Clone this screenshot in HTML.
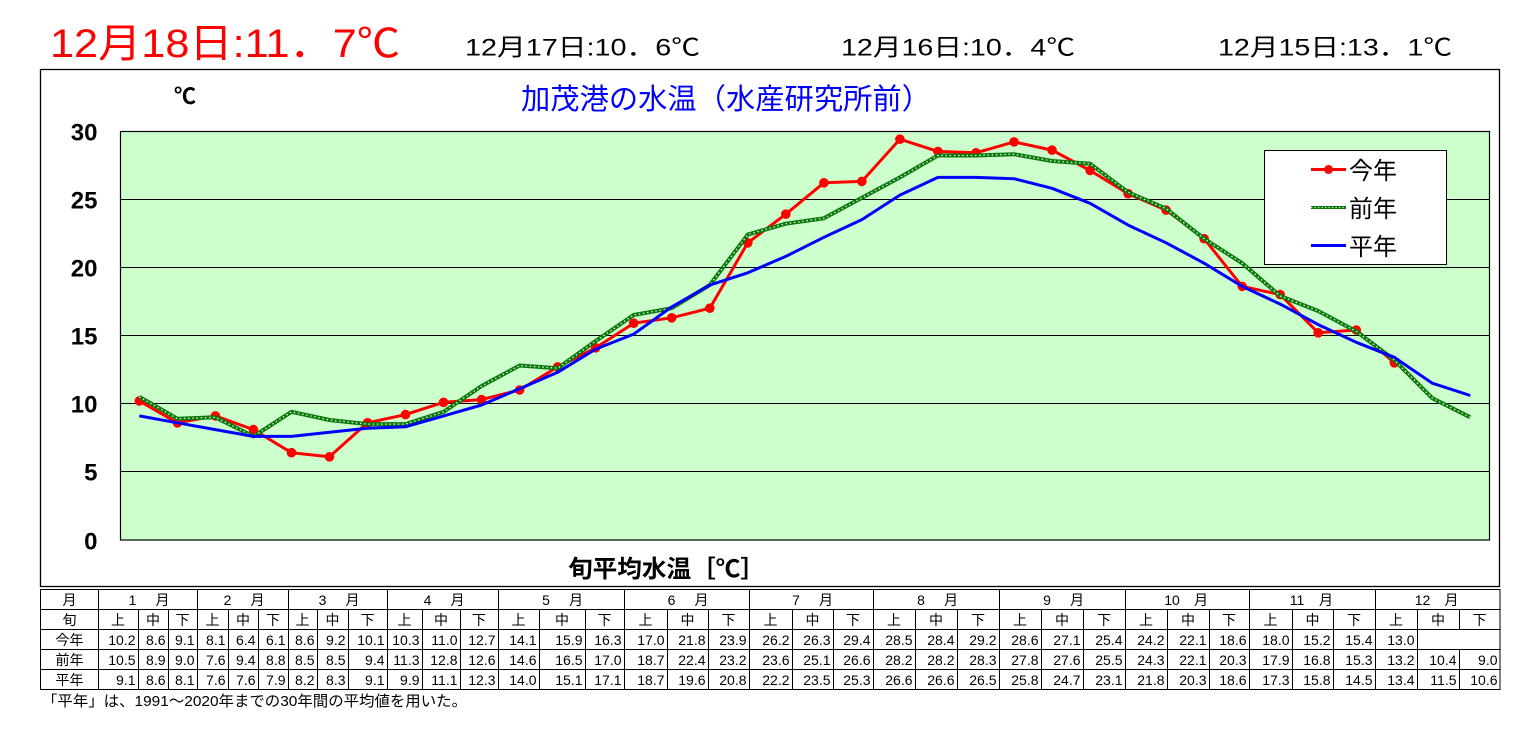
<!DOCTYPE html>
<html><head><meta charset="utf-8">
<style>
html,body{margin:0;padding:0;background:#fff;}
svg{display:block;}
text{font-family:"Liberation Sans","Noto Sans CJK JP",sans-serif;}
</style></head>
<body>
<svg width="1531" height="734" viewBox="0 0 1531 734" xmlns="http://www.w3.org/2000/svg">
<rect width="1531" height="734" fill="#fff"/>
<!-- header -->
<text x="50" y="57" font-size="40" fill="#ff0000" textLength="350" lengthAdjust="spacingAndGlyphs">12月18日:11．7℃</text>
<text x="465" y="55.5" font-size="24" fill="#000" textLength="235" lengthAdjust="spacingAndGlyphs">12月17日:10．6℃</text>
<text x="841" y="55.5" font-size="24" fill="#000" textLength="234" lengthAdjust="spacingAndGlyphs">12月16日:10．4℃</text>
<text x="1218" y="55.5" font-size="24" fill="#000" textLength="234" lengthAdjust="spacingAndGlyphs">12月15日:13．1℃</text>

<!-- chart box -->
<rect x="40.5" y="69.5" width="1459" height="517" fill="#fff" stroke="#000" stroke-width="1.3"/>
<text x="521" y="109" font-size="29" fill="#0000ff" textLength="410" lengthAdjust="spacingAndGlyphs">加茂港の水温（水産研究所前）</text>
<text x="174" y="104" font-size="22" font-weight="bold" fill="#000">℃</text>

<!-- plot area -->
<rect x="120.5" y="131.5" width="1369" height="408.5" fill="#ccffcc" stroke="#000" stroke-width="1.2"/>
<g stroke="#000" stroke-width="1">
<line x1="120.5" y1="199.5" x2="1489.5" y2="199.5"/>
<line x1="120.5" y1="267.5" x2="1489.5" y2="267.5"/>
<line x1="120.5" y1="335.5" x2="1489.5" y2="335.5"/>
<line x1="120.5" y1="403.5" x2="1489.5" y2="403.5"/>
<line x1="120.5" y1="471.5" x2="1489.5" y2="471.5"/>
</g>
<g font-size="24" font-weight="bold" text-anchor="end" fill="#000">
<text x="97.5" y="140.5">30</text>
<text x="97.5" y="208.5">25</text>
<text x="97.5" y="276.5">20</text>
<text x="97.5" y="344.5">15</text>
<text x="97.5" y="412.5">10</text>
<text x="97.5" y="480.5">5</text>
<text x="97.5" y="549.5">0</text>
</g>
<text x="568" y="577" font-size="24" font-weight="bold" fill="#000" textLength="197" lengthAdjust="spacingAndGlyphs">旬平均水温［℃］</text>

<!-- series -->
<polyline fill="none" stroke="#ff0000" stroke-width="3" stroke-linejoin="round" points="139.3,400.9 177.4,422.8 215.4,415.9 253.4,429.6 291.5,452.7 329.5,456.8 367.5,422.8 405.5,414.6 443.6,402.3 481.6,399.6 519.6,390.0 557.7,366.9 595.7,347.8 633.7,323.2 671.7,317.8 709.8,308.2 747.8,242.8 785.8,214.2 823.9,182.8 861.9,181.4 899.9,139.2 937.9,151.4 976.0,152.8 1014.0,141.9 1052.0,150.1 1090.1,170.5 1128.1,193.7 1166.1,210.1 1204.1,238.7 1242.2,286.4 1280.2,294.6 1318.2,332.8 1356.3,330.0 1394.3,362.8"/>
<g fill="#ff0000">
<circle cx="139.3" cy="400.9" r="4.8"/><circle cx="177.4" cy="422.8" r="4.8"/><circle cx="215.4" cy="415.9" r="4.8"/><circle cx="253.4" cy="429.6" r="4.8"/><circle cx="291.5" cy="452.7" r="4.8"/><circle cx="329.5" cy="456.8" r="4.8"/><circle cx="367.5" cy="422.8" r="4.8"/><circle cx="405.5" cy="414.6" r="4.8"/><circle cx="443.6" cy="402.3" r="4.8"/><circle cx="481.6" cy="399.6" r="4.8"/><circle cx="519.6" cy="390.0" r="4.8"/><circle cx="557.7" cy="366.9" r="4.8"/><circle cx="595.7" cy="347.8" r="4.8"/><circle cx="633.7" cy="323.2" r="4.8"/><circle cx="671.7" cy="317.8" r="4.8"/><circle cx="709.8" cy="308.2" r="4.8"/><circle cx="747.8" cy="242.8" r="4.8"/><circle cx="785.8" cy="214.2" r="4.8"/><circle cx="823.9" cy="182.8" r="4.8"/><circle cx="861.9" cy="181.4" r="4.8"/><circle cx="899.9" cy="139.2" r="4.8"/><circle cx="937.9" cy="151.4" r="4.8"/><circle cx="976.0" cy="152.8" r="4.8"/><circle cx="1014.0" cy="141.9" r="4.8"/><circle cx="1052.0" cy="150.1" r="4.8"/><circle cx="1090.1" cy="170.5" r="4.8"/><circle cx="1128.1" cy="193.7" r="4.8"/><circle cx="1166.1" cy="210.1" r="4.8"/><circle cx="1204.1" cy="238.7" r="4.8"/><circle cx="1242.2" cy="286.4" r="4.8"/><circle cx="1280.2" cy="294.6" r="4.8"/><circle cx="1318.2" cy="332.8" r="4.8"/><circle cx="1356.3" cy="330.0" r="4.8"/><circle cx="1394.3" cy="362.8" r="4.8"/>
</g>
<polyline id="g" fill="none" stroke="#0a780a" stroke-width="4" stroke-linejoin="round" points="139.3,396.9 177.4,418.7 215.4,417.3 253.4,436.4 291.5,411.8 329.5,420.0 367.5,424.1 405.5,424.1 443.6,411.8 481.6,386.0 519.6,365.5 557.7,368.2 595.7,341.0 633.7,315.0 671.7,308.2 709.8,285.1 747.8,234.6 785.8,223.7 823.9,218.3 861.9,197.8 899.9,177.4 937.9,155.5 976.0,155.5 1014.0,154.2 1052.0,161.0 1090.1,163.7 1128.1,192.3 1166.1,208.7 1204.1,238.7 1242.2,263.2 1280.2,296.0 1318.2,311.0 1356.3,331.4 1394.3,360.0 1432.3,398.2 1470.3,417.3"/>
<polyline fill="none" stroke="#e8ffe8" stroke-width="1.3" stroke-dasharray="1.4,2.8" points="139.3,396.9 177.4,418.7 215.4,417.3 253.4,436.4 291.5,411.8 329.5,420.0 367.5,424.1 405.5,424.1 443.6,411.8 481.6,386.0 519.6,365.5 557.7,368.2 595.7,341.0 633.7,315.0 671.7,308.2 709.8,285.1 747.8,234.6 785.8,223.7 823.9,218.3 861.9,197.8 899.9,177.4 937.9,155.5 976.0,155.5 1014.0,154.2 1052.0,161.0 1090.1,163.7 1128.1,192.3 1166.1,208.7 1204.1,238.7 1242.2,263.2 1280.2,296.0 1318.2,311.0 1356.3,331.4 1394.3,360.0 1432.3,398.2 1470.3,417.3"/>
<polyline fill="none" stroke="#0000ff" stroke-width="3" stroke-linejoin="round" points="139.3,415.9 177.4,422.8 215.4,429.6 253.4,436.4 291.5,436.4 329.5,432.3 367.5,428.2 405.5,426.8 443.6,415.9 481.6,405.0 519.6,388.7 557.7,372.3 595.7,349.1 633.7,334.1 671.7,306.9 709.8,285.1 747.8,272.8 785.8,256.4 823.9,237.3 861.9,219.6 899.9,195.1 937.9,177.4 976.0,177.4 1014.0,178.7 1052.0,188.3 1090.1,203.3 1128.1,225.1 1166.1,242.8 1204.1,263.2 1242.2,286.4 1280.2,304.1 1318.2,324.6 1356.3,342.3 1394.3,357.3 1432.3,383.2 1470.3,395.5"/>

<!-- legend -->
<rect x="1264.5" y="150.5" width="182" height="114" fill="#fff" stroke="#000" stroke-width="1"/>
<line x1="1311" y1="169.5" x2="1346" y2="169.5" stroke="#ff0000" stroke-width="3"/>
<circle cx="1328.5" cy="169.5" r="4.5" fill="#ff0000"/>
<line x1="1311" y1="207.5" x2="1346" y2="207.5" stroke="#0a780a" stroke-width="3"/>
<line x1="1311" y1="207.5" x2="1346" y2="207.5" stroke="#e8ffe8" stroke-width="1" stroke-dasharray="1.2,2.3"/>
<line x1="1311" y1="245.5" x2="1346" y2="245.5" stroke="#0000ff" stroke-width="3"/>
<g font-size="24" fill="#000">
<text x="1349" y="179">今年</text>
<text x="1349" y="217">前年</text>
<text x="1349" y="255">平年</text>
</g>

<!-- table -->
<g stroke="#000" stroke-width="1" fill="none">
<rect x="40.5" y="589.5" width="1459.5" height="100"/>
<line x1="40.5" y1="609.5" x2="1500" y2="609.5"/>
<line x1="40.5" y1="629.5" x2="1500" y2="629.5"/>
<line x1="40.5" y1="649.5" x2="1500" y2="649.5"/>
<line x1="40.5" y1="669.5" x2="1500" y2="669.5"/>
<!-- month boundaries full height -->
<path d="M98.5 589.5V689.5M197.5 589.5V689.5M288.5 589.5V689.5M387.5 589.5V689.5M498.5 589.5V689.5M624.5 589.5V689.5M749.5 589.5V689.5M873.5 589.5V689.5M999.5 589.5V689.5M1125.5 589.5V689.5M1249.5 589.5V689.5M1375.5 589.5V689.5"/>
<!-- inner column lines rows 2-5 -->
<path d="M138.5 609.5V689.5M168.5 609.5V689.5M228.5 609.5V689.5M258.5 609.5V689.5M317.5 609.5V689.5M348.5 609.5V689.5M422.5 609.5V689.5M460.5 609.5V689.5M539.5 609.5V689.5M585.5 609.5V689.5M667.5 609.5V689.5M708.5 609.5V689.5M792.5 609.5V689.5M833.5 609.5V689.5M915.5 609.5V689.5M957.5 609.5V689.5M1041.5 609.5V689.5M1083.5 609.5V689.5M1167.5 609.5V689.5M1209.5 609.5V689.5M1292.5 609.5V689.5M1333.5 609.5V689.5M1417.5 609.5V689.5M1459.5 609.5V629.5M1459.5 649.5V689.5"/>
</g>
<g font-size="14" fill="#000" text-anchor="middle">
<text x="69.5" y="605">月</text>
<text x="69.5" y="625">旬</text>
<text x="69.5" y="645">今年</text>
<text x="69.5" y="665">前年</text>
<text x="69.5" y="685">平年</text>
<text x="132.5" y="605">1</text><text x="162.5" y="605">月</text>
<text x="227.5" y="605">2</text><text x="257.5" y="605">月</text>
<text x="322.5" y="605">3</text><text x="352.5" y="605">月</text>
<text x="427.5" y="605">4</text><text x="457.5" y="605">月</text>
<text x="546" y="605">5</text><text x="576" y="605">月</text>
<text x="671.5" y="605">6</text><text x="701.5" y="605">月</text>
<text x="796" y="605">7</text><text x="826" y="605">月</text>
<text x="921" y="605">8</text><text x="951" y="605">月</text>
<text x="1047" y="605">9</text><text x="1077" y="605">月</text>
<text x="1172" y="605">10</text><text x="1201" y="605">月</text>
<text x="1297" y="605">11</text><text x="1326" y="605">月</text>
<text x="1422.5" y="605">12</text><text x="1451.5" y="605">月</text>
</g>
<g font-size="14" fill="#000" text-anchor="middle">
<text x="118" y="625">上</text><text x="153" y="625">中</text><text x="182.5" y="625">下</text>
<text x="212.5" y="625">上</text><text x="243" y="625">中</text><text x="273" y="625">下</text>
<text x="302.5" y="625">上</text><text x="332.5" y="625">中</text><text x="367.5" y="625">下</text>
<text x="404.5" y="625">上</text><text x="441" y="625">中</text><text x="479" y="625">下</text>
<text x="518.5" y="625">上</text><text x="562" y="625">中</text><text x="604.5" y="625">下</text>
<text x="645.5" y="625">上</text><text x="687.5" y="625">中</text><text x="728.5" y="625">下</text>
<text x="770.5" y="625">上</text><text x="812.5" y="625">中</text><text x="853" y="625">下</text>
<text x="894" y="625">上</text><text x="936" y="625">中</text><text x="978" y="625">下</text>
<text x="1020" y="625">上</text><text x="1062" y="625">中</text><text x="1104" y="625">下</text>
<text x="1146" y="625">上</text><text x="1188" y="625">中</text><text x="1229" y="625">下</text>
<text x="1270.5" y="625">上</text><text x="1312.5" y="625">中</text><text x="1354" y="625">下</text>
<text x="1396" y="625">上</text><text x="1438" y="625">中</text><text x="1479.5" y="625">下</text>
</g>
<g font-size="14" fill="#000" text-anchor="end">
<!-- 今年 -->
<text x="135.5" y="645">10.2</text><text x="165.5" y="645">8.6</text><text x="194.5" y="645">9.1</text>
<text x="225.5" y="645">8.1</text><text x="255.5" y="645">6.4</text><text x="285.5" y="645">6.1</text>
<text x="314.5" y="645">8.6</text><text x="345.5" y="645">9.2</text><text x="384.5" y="645">10.1</text>
<text x="419.5" y="645">10.3</text><text x="457.5" y="645">11.0</text><text x="495.5" y="645">12.7</text>
<text x="536.5" y="645">14.1</text><text x="582.5" y="645">15.9</text><text x="621.5" y="645">16.3</text>
<text x="664.5" y="645">17.0</text><text x="705.5" y="645">21.8</text><text x="746.5" y="645">23.9</text>
<text x="789.5" y="645">26.2</text><text x="830.5" y="645">26.3</text><text x="870.5" y="645">29.4</text>
<text x="912.5" y="645">28.5</text><text x="954.5" y="645">28.4</text><text x="996.5" y="645">29.2</text>
<text x="1038.5" y="645">28.6</text><text x="1080.5" y="645">27.1</text><text x="1122.5" y="645">25.4</text>
<text x="1164.5" y="645">24.2</text><text x="1206.5" y="645">22.1</text><text x="1246.5" y="645">18.6</text>
<text x="1289.5" y="645">18.0</text><text x="1330.5" y="645">15.2</text><text x="1372.5" y="645">15.4</text>
<text x="1414.5" y="645">13.0</text>
<!-- 前年 -->
<text x="135.5" y="665">10.5</text><text x="165.5" y="665">8.9</text><text x="194.5" y="665">9.0</text>
<text x="225.5" y="665">7.6</text><text x="255.5" y="665">9.4</text><text x="285.5" y="665">8.8</text>
<text x="314.5" y="665">8.5</text><text x="345.5" y="665">8.5</text><text x="384.5" y="665">9.4</text>
<text x="419.5" y="665">11.3</text><text x="457.5" y="665">12.8</text><text x="495.5" y="665">12.6</text>
<text x="536.5" y="665">14.6</text><text x="582.5" y="665">16.5</text><text x="621.5" y="665">17.0</text>
<text x="664.5" y="665">18.7</text><text x="705.5" y="665">22.4</text><text x="746.5" y="665">23.2</text>
<text x="789.5" y="665">23.6</text><text x="830.5" y="665">25.1</text><text x="870.5" y="665">26.6</text>
<text x="912.5" y="665">28.2</text><text x="954.5" y="665">28.2</text><text x="996.5" y="665">28.3</text>
<text x="1038.5" y="665">27.8</text><text x="1080.5" y="665">27.6</text><text x="1122.5" y="665">25.5</text>
<text x="1164.5" y="665">24.3</text><text x="1206.5" y="665">22.1</text><text x="1246.5" y="665">20.3</text>
<text x="1289.5" y="665">17.9</text><text x="1330.5" y="665">16.8</text><text x="1372.5" y="665">15.3</text>
<text x="1414.5" y="665">13.2</text><text x="1456.5" y="665">10.4</text><text x="1497.5" y="665">9.0</text>
<!-- 平年 -->
<text x="135.5" y="685">9.1</text><text x="165.5" y="685">8.6</text><text x="194.5" y="685">8.1</text>
<text x="225.5" y="685">7.6</text><text x="255.5" y="685">7.6</text><text x="285.5" y="685">7.9</text>
<text x="314.5" y="685">8.2</text><text x="345.5" y="685">8.3</text><text x="384.5" y="685">9.1</text>
<text x="419.5" y="685">9.9</text><text x="457.5" y="685">11.1</text><text x="495.5" y="685">12.3</text>
<text x="536.5" y="685">14.0</text><text x="582.5" y="685">15.1</text><text x="621.5" y="685">17.1</text>
<text x="664.5" y="685">18.7</text><text x="705.5" y="685">19.6</text><text x="746.5" y="685">20.8</text>
<text x="789.5" y="685">22.2</text><text x="830.5" y="685">23.5</text><text x="870.5" y="685">25.3</text>
<text x="912.5" y="685">26.6</text><text x="954.5" y="685">26.6</text><text x="996.5" y="685">26.5</text>
<text x="1038.5" y="685">25.8</text><text x="1080.5" y="685">24.7</text><text x="1122.5" y="685">23.1</text>
<text x="1164.5" y="685">21.8</text><text x="1206.5" y="685">20.3</text><text x="1246.5" y="685">18.6</text>
<text x="1289.5" y="685">17.3</text><text x="1330.5" y="685">15.8</text><text x="1372.5" y="685">14.5</text>
<text x="1414.5" y="685">13.4</text><text x="1456.5" y="685">11.5</text><text x="1497.5" y="685">10.6</text>
</g>
<text x="42" y="706" font-size="15" fill="#000" textLength="425" lengthAdjust="spacingAndGlyphs">「平年」は、1991～2020年までの30年間の平均値を用いた。</text>
</svg>
</body></html>
